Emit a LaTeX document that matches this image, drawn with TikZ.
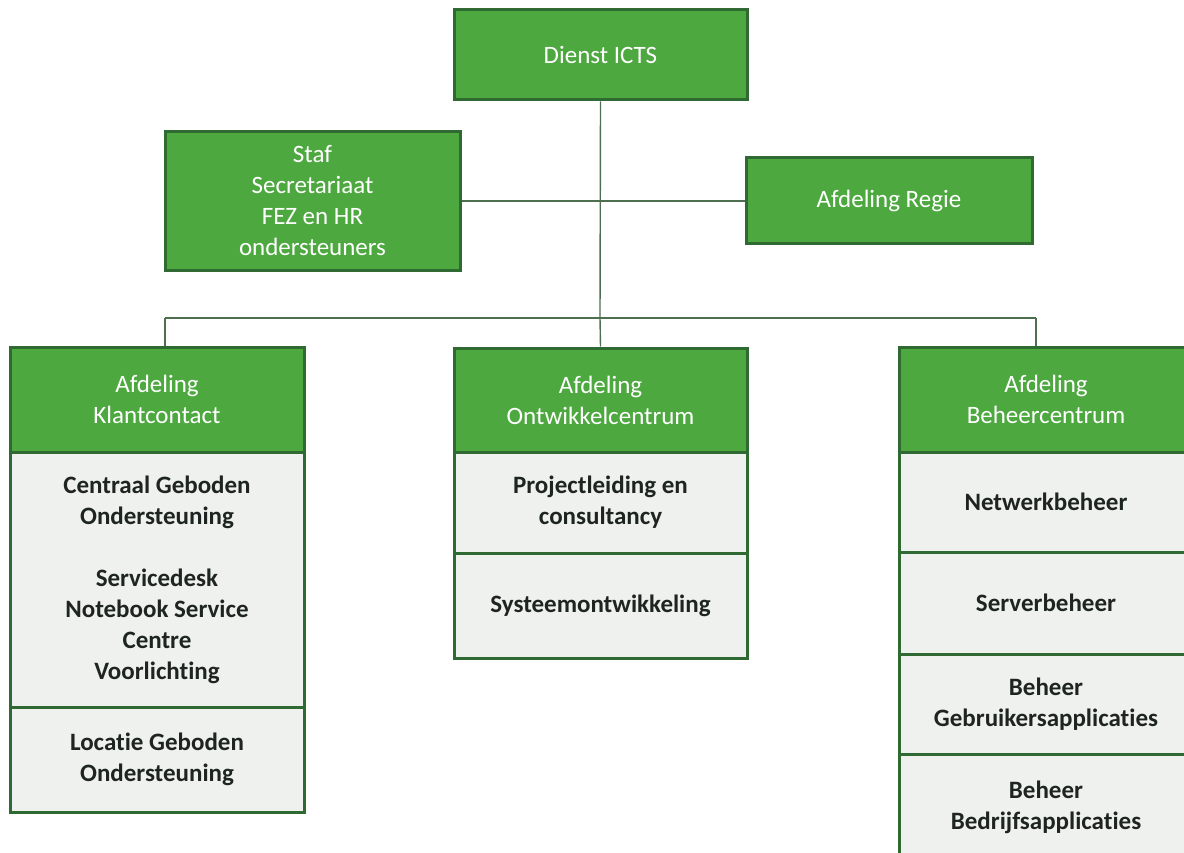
\documentclass[tikz,border=0pt]{standalone}
\usepackage{fontspec}
\setmainfont{Carlito}[Ligatures=NoCommon]
\definecolor{hdrgreen}{HTML}{4DA83F}
\definecolor{boxedge}{HTML}{2F6A33}
\definecolor{cellgray}{HTML}{EEF1EE}
\definecolor{inktext}{HTML}{1E2421}
\definecolor{linkline}{HTML}{4E6E50}
\tikzset{
  greenbox/.style={draw=boxedge, line width=3pt, fill=hdrgreen, text=white,
    font=\fontsize{25}{31}\selectfont, align=center, inner sep=0pt, rectangle},
  graybox/.style={draw=boxedge, line width=3pt, fill=cellgray, text=inktext,
    font=\fontsize{25}{31}\selectfont\bfseries, align=center, inner sep=0pt, rectangle},
  link/.style={draw=linkline, line width=1.4pt},
}
\begin{document}
\begin{tikzpicture}[x=1pt, y=-1pt]
\useasboundingbox (0,0) rectangle (1184,853);
\clip (0,0) rectangle (1184,853);
\fill[white] (0,0) rectangle (1184,853);

% top level
\node[greenbox, minimum width=293pt, minimum height=90pt] (icts) at (600.5,55) {Dienst ICTS};
\node[greenbox, minimum width=295pt, minimum height=139pt] (staf) at (312.5,201) {Staf\\Secretariaat\\FEZ en HR\\ondersteuners};
\node[greenbox, minimum width=286pt, minimum height=86pt] (regie) at (889,201) {Afdeling Regie};

% connectors between top level
\coordinate (split) at (600,318);
\coordinate (lsplit) at (165,318);
\coordinate (rsplit) at (1036,318);
\draw[link] (icts.south) -- (split);
\draw[link] (staf.east) -- (regie.west);
\draw[link] (lsplit) -- (rsplit);

% left department
\node[greenbox, minimum width=294pt, minimum height=105pt] (kc) at (157,399.5) {Afdeling\\Klantcontact};
\node[graybox, minimum width=294pt, minimum height=255pt] (kc1) at (157,579.5) {Centraal Geboden\\Ondersteuning\\[31pt]Servicedesk\\Notebook Service\\Centre\\Voorlichting};
\node[graybox, minimum width=294pt, minimum height=105pt] (kc2) at (157,759.5) {Locatie Geboden\\Ondersteuning};

% middle department
\node[greenbox, minimum width=293pt, minimum height=104pt] (oc) at (600.5,400) {Afdeling\\Ontwikkelcentrum};
\node[graybox, minimum width=293pt, minimum height=101pt] (oc1) at (600.5,502.5) {Projectleiding en\\consultancy};
\node[graybox, minimum width=293pt, minimum height=105pt] (oc2) at (600.5,605.5) {Systeemontwikkeling};

% right department
\node[greenbox, minimum width=294pt, minimum height=105pt] (bc) at (1046,399.5) {Afdeling\\Beheercentrum};
\node[graybox, minimum width=294pt, minimum height=100pt] (bc1) at (1046,502) {Netwerkbeheer};
\node[graybox, minimum width=294pt, minimum height=102pt] (bc2) at (1046,603) {Serverbeheer};
\node[graybox, minimum width=294pt, minimum height=100pt] (bc3) at (1046,704) {Beheer\\Gebruikersapplicaties};
\node[graybox, minimum width=294pt, minimum height=106pt] (bc4) at (1046,807) {Beheer\\Bedrijfsapplicaties};

% drops to the departments
\draw[link] (lsplit) -- (lsplit |- kc.north);
\draw[link] (split) -- (oc.north);
\draw[link] (rsplit) -- (rsplit |- bc.north);
\end{tikzpicture}
\end{document}
